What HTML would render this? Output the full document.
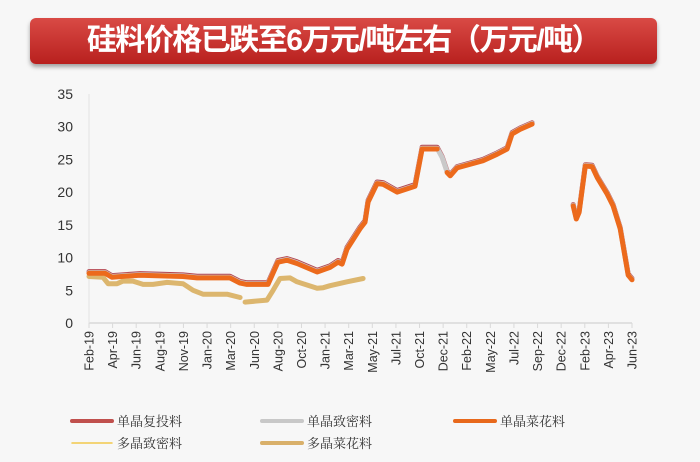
<!DOCTYPE html>
<html><head><meta charset="utf-8"><style>
body{margin:0;width:700px;height:462px;background:#f7f7f7;overflow:hidden;font-family:"Liberation Sans","Noto Sans CJK SC",sans-serif}
#title{position:absolute;left:30px;top:18px;width:627px;height:46px;border-radius:6px;background:linear-gradient(#d94a45,#b8201e);box-shadow:0 3px 4px rgba(0,0,0,.35);color:#fff;font-weight:bold;font-size:30px;line-height:46px;text-align:center;letter-spacing:-1.5px}
svg{position:absolute;left:0;top:0}
</style></head><body>
<div id="title">硅料价格已跌至6万元/吨左右（万元/吨）</div>
<svg id="c" width="700" height="462"></svg>
<script>
const categories=["Feb-19","Apr-19","Jun-19","Aug-19","Nov-19","Jan-20","Mar-20","Jun-20","Aug-20","Oct-20","Jan-21","Mar-21","May-21","Jul-21","Oct-21","Dec-21","Feb-22","May-22","Jul-22","Sep-22","Dec-22","Feb-23","Apr-23","Jun-23"];
const yTicks=[0,5,10,15,20,25,30,35];
// x in category-index units, value in 万元/吨
const monoX=[0,0.68,0.97,2.16,3.98,4.58,5.97,6.4,6.69,7.58,8.0,8.39,8.81,9.66,10.21,10.55,10.72,10.93,11.48,11.69,11.82,12.2,12.46,13.05,13.47,13.81,14.11,14.75,14.96,15.17,15.3,15.59,16.69,17.29,17.71,17.92,18.26,18.77,null,20.51,20.64,20.76,21.02,21.31,21.53,21.95,22.2,22.5,22.84,23.0];
const monoCauliflower=[7.6,7.6,7.0,7.3,7.1,6.9,6.9,6.1,5.9,5.9,9.3,9.6,9.1,7.8,8.5,9.3,9.0,11.3,14.4,15.4,18.5,21.3,21.2,20.0,20.5,20.9,26.6,26.6,null,23.0,22.5,23.7,24.8,25.8,26.6,28.9,29.6,30.4,null,17.9,15.9,16.9,24.0,23.9,22.2,19.7,17.9,14.4,7.3,6.6];
const monoDense=[7.7,7.7,7.1,7.4,7.2,7.0,7.0,6.2,6.0,6.0,9.4,9.7,9.2,7.9,8.6,9.4,9.1,11.4,14.5,15.5,18.6,21.4,21.3,20.1,20.6,21.0,26.7,26.7,25.3,23.1,22.6,23.8,24.9,25.9,26.7,29.0,29.7,30.5,null,18.0,16.0,17.0,24.1,24.0,22.3,19.8,18.0,14.5,7.4,6.7];
const monoRecharge=[7.85,7.85,7.25,7.55,7.35,7.15,7.15,6.35,6.15,6.15,9.55,9.85,9.35,8.05,8.75,9.55,9.25,11.55,14.65,15.65,18.75,21.55,21.45,20.25,20.75,21.15,26.85,26.85,25.4,23.2,22.7,23.9,25.0,26.0,26.8,29.1,29.8,30.6,null,18.1,16.1,17.1,24.2,24.1,22.4,19.9,18.1,14.6,7.5,6.8];
const polyX=[0,0.59,0.81,1.19,1.44,1.86,2.29,2.71,3.31,3.98,4.41,4.83,5.85,6.4,null,6.61,7.54,7.8,8.09,8.52,8.81,9.07,9.66,9.92,10.21,10.93,11.61];
const polyCauliflower=[7.1,7.0,6.0,6.0,6.4,6.4,5.9,5.9,6.2,6.0,5.0,4.4,4.4,3.9,null,3.2,3.5,5.0,6.8,6.9,6.3,6.0,5.3,5.4,5.7,6.3,6.8];

const svg=document.getElementById('c');const NS='http://www.w3.org/2000/svg';
const X0=89,X1=632,Y0=323,Y35=94;
const xs=i=>X0+i*(X1-X0)/(categories.length-1);
const ys=v=>Y0-v*(Y0-Y35)/35;
function mk(t,a){const e=document.createElementNS(NS,t);for(const k in a)e.setAttribute(k,a[k]);svg.appendChild(e);return e;}
let ax=mk('line',{x1:X0,y1:Y0,x2:X1,y2:Y0,stroke:'#d9d9d9','stroke-width':1.5});


let ay=mk('line',{x1:X0,y1:Y35,x2:X0,y2:Y0,stroke:'#e3e3e3','stroke-width':1});


yTicks.forEach(v=>{const t=mk('text',{x:73,y:ys(v)+5,'text-anchor':'end','font-size':14,fill:'#333'});t.textContent=v;

});
categories.forEach((c,i)=>{const x=xs(i);const tk=mk('line',{x1:x,y1:Y0,x2:x,y2:Y0+5,stroke:'#d9d9d9'});


const t=mk('text',{transform:`translate(${x+4.5},${Y0+8}) rotate(-90)`,'text-anchor':'end','font-size':12.5,fill:'#333'});t.textContent=c;

});
function path(xsArr,vals){let d='',pen=false;for(let i=0;i<vals.length;i++){if(vals[i]==null||xsArr[i]==null){pen=false;continue;}d+=(pen?'L':'M')+xs(xsArr[i]).toFixed(1)+','+ys(vals[i]).toFixed(1);pen=true;}return d;}
function series(xa,vals,color,w,name){const p=mk('path',{d:path(xa,vals),fill:'none',stroke:color,'stroke-width':w,'stroke-linejoin':'round','stroke-linecap':'round'});

}
series(polyX,polyCauliflower,'#dcb66e',5,'poly-cauliflower-line');
series(monoX,monoRecharge,'#b5454f',5,'mono-recharge-line');
series(monoX,monoDense,'#c9c9c9',5,'mono-dense-line');
series(monoX,monoCauliflower,'#ec6a1c',5,'mono-cauliflower-line');
const legend=[["单晶复投料",'#c0504d',4,72,421],["单晶致密料",'#c8c8c8',4,262,421],["单晶菜花料",'#e8691c',4,455,421],["多晶致密料",'#f2c94c',1.5,72,443],["多晶菜花料",'#d9b06a',4,262,443]];
legend.forEach(([n,c,w,x,y])=>{const l=mk('line',{x1:x,y1:y,x2:x+40,y2:y,stroke:c,'stroke-width':w,'stroke-linecap':'round'});


const t=mk('text',{x:x+45,y:y+5,'font-size':13,fill:'#333','font-family':'"Noto Serif CJK SC",serif'});t.textContent=n;

});
</script>
</body></html>
